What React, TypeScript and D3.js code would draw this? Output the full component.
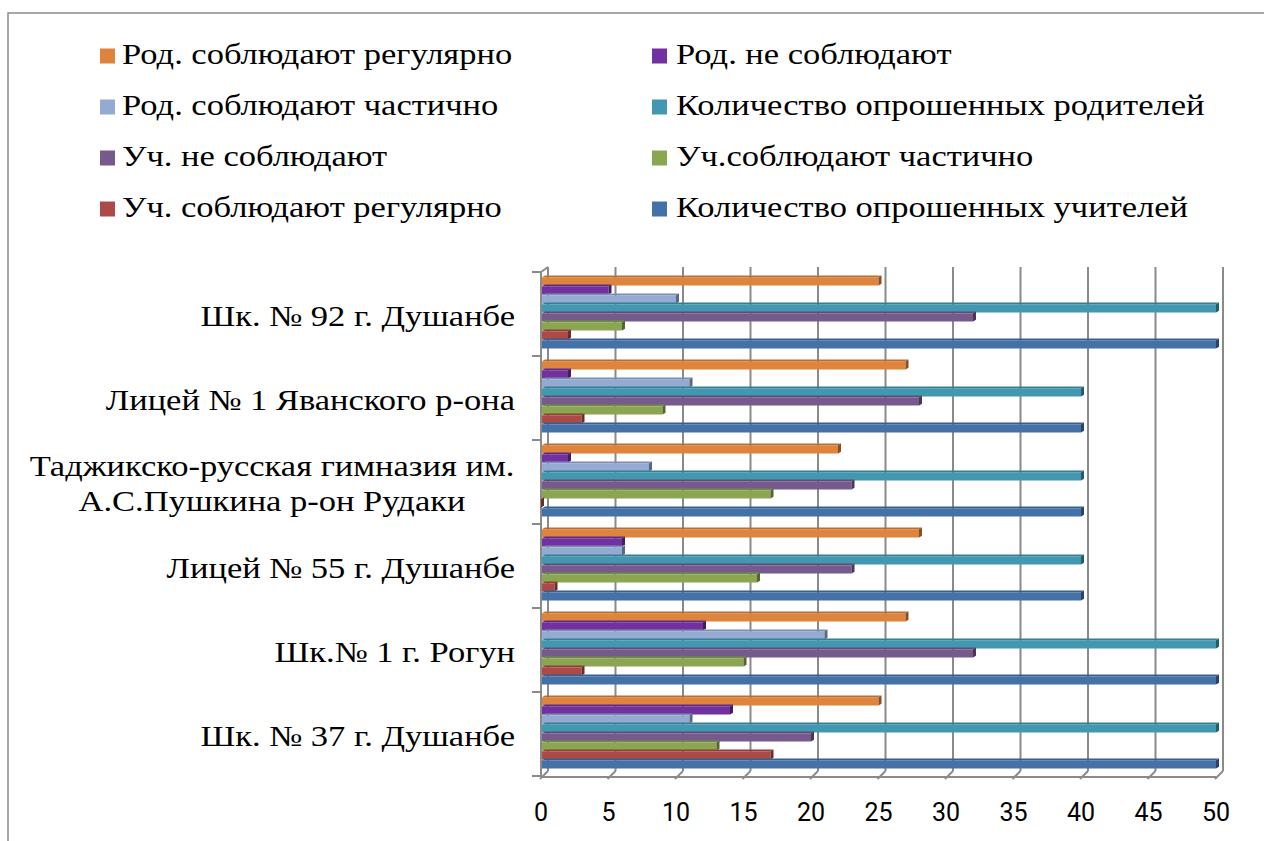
import React from "react";
import * as d3 from "d3";

const categories = [
  "Шк. № 92 г. Душанбе",
  "Лицей № 1 Яванского р-она",
  "Таджикско-русская гимназия им.|А.С.Пушкина р-он Рудаки",
  "Лицей № 55 г. Душанбе",
  "Шк.№ 1 г. Рогун",
  "Шк. № 37 г. Душанбе",
];

const seriesNames = [
  "Род. соблюдают регулярно",
  "Род. не соблюдают",
  "Род. соблюдают частично",
  "Количество опрошенных родителей",
  "Уч. не соблюдают",
  "Уч.соблюдают частично",
  "Уч. соблюдают регулярно",
  "Количество опрошенных учителей",
];

const rodReg = [25, 27, 22, 28, 27, 25];
const rodNe = [5, 2, 2, 6, 12, 14];
const rodChast = [10, 11, 8, 6, 21, 11];
const rodCount = [50, 40, 40, 40, 50, 50];
const uchNe = [32, 28, 23, 23, 32, 20];
const uchChast = [6, 9, 17, 16, 15, 13];
const uchReg = [2, 3, 0, 1, 3, 17];
const uchCount = [50, 40, 40, 40, 50, 50];

const seriesValues = [rodReg, rodNe, rodChast, rodCount, uchNe, uchChast, uchReg, uchCount];
const seriesColors = ["#DE843C", "#7231A0", "#94AAD3", "#4198B0", "#765A8E", "#8BA650", "#AD4A47", "#4472A8"];

const xTicks = [0, 5, 10, 15, 20, 25, 30, 35, 40, 45, 50];

const STRETCH = 1.19;

export default function App() {
  const x = d3.scaleLinear().domain([0, 50]).range([541, 1216]);
  const y = d3.scaleBand().domain(categories).range([272, 776]);
  const inner = d3.scaleBand().domain(seriesNames).range([3.5, 75.5]);
  const DX = 7, DY = 6;
  const floorY = 777;
  const topY = 267;
  const grid = "#8a8a8a";
  const serif = "'Liberation Serif', 'Times New Roman', serif";
  const sans = "'Liberation Sans Narrow', 'Roboto', sans-serif";

  const legendRows = [64, 115, 166, 217];

  return (
    <svg width={1264} height={841} style={{ position: "absolute", left: 0, top: 0, background: "#fff" }}>
      <rect x={8} y={13} width={1300} height={900} fill="#fff" stroke="#8c8c8c" strokeWidth={1.5} />

      {/* legend */}
      {seriesNames.map((name, i) => {
        const col = i % 2;
        const row = Math.floor(i / 2);
        const mx = col === 0 ? 100 : 652;
        const tx = col === 0 ? 122 : 676;
        const by = legendRows[row];
        return (
          <g key={name}>
            <rect x={mx} y={by - 15.5} width={15} height={15} fill={seriesColors[i]} />
            <text transform={`translate(${tx},${by}) scale(${STRETCH},1)`} fontFamily={serif} fontSize={29} fill="#000">{name}</text>
          </g>
        );
      })}

      {/* back wall gridlines */}
      {xTicks.map((t) => (
        <line key={"g" + t} x1={x(t) + DX} x2={x(t) + DX} y1={topY} y2={floorY - DY} stroke={grid} strokeWidth={2} />
      ))}
      {/* left wall */}
      <line x1={541} x2={541} y1={topY + DY - 1} y2={floorY} stroke={grid} strokeWidth={2} />
      <line x1={541} x2={541 + DX} y1={topY + DY - 1} y2={topY} stroke={grid} strokeWidth={2} />
      {categories.map((c) => (
        <line key={"lt" + c} x1={532} x2={541} y1={y(c)!} y2={y(c)!} stroke={grid} strokeWidth={2} />
      ))}
      <line x1={532} x2={541} y1={776} y2={776} stroke={grid} strokeWidth={2} />
      {/* floor */}
      <line x1={541} x2={1216} y1={floorY} y2={floorY} stroke={grid} strokeWidth={2} />
      {xTicks.map((t) => (
        <line key={"ft" + t} x1={x(t) - 1} x2={x(t) + DX} y1={floorY + 2} y2={floorY - DY} stroke={grid} strokeWidth={2} />
      ))}

      {/* bars */}
      {categories.map((c, ci) => (
        <g key={"cat" + ci}>
          {seriesNames.map((s, si) => {
            const v = seriesValues[si][ci];
            const color = d3.color(seriesColors[si])!;
            const top = y(c)! + inner(s)!;
            const x0 = x(0) + 1;
            const x1 = x(v);
            const h = inner.bandwidth();
            const d = 3;
            const tf = 1.8;
            const ft = top + tf;
            return (
              <g key={s}>
                <rect x={x0} y={ft} width={Math.max(0, x1 - x0)} height={h - 0.8} fill={seriesColors[si]} />
                <polygon points={`${x0},${ft} ${x1},${ft} ${x1 + d},${top} ${x0 + d},${top}`} fill={color.darker(0.5).toString()} />
                <polygon points={`${x1},${ft} ${x1 + d},${top} ${x1 + d},${top + h - 0.8} ${x1},${ft + h - 0.8}`} fill={color.darker(1.4).toString()} />
              </g>
            );
          })}
        </g>
      ))}

      {/* category labels */}
      {categories.map((c) => {
        const cy = y(c)! + y.bandwidth() / 2;
        const lines = c.split("|");
        if (lines.length === 1) {
          return (
            <text key={"cl" + c} transform={`translate(515,${cy + 12}) scale(${STRETCH},1)`} textAnchor="end" fontFamily={serif} fontSize={29} fill="#000">{c}</text>
          );
        }
        return (
          <g key={"cl" + c}>
            {lines.map((l, li) => (
              <text key={l} transform={`translate(272,${cy + 11 + (li - 0.5) * 35}) scale(${STRETCH},1)`} textAnchor="middle" fontFamily={serif} fontSize={29} fill="#000">{l}</text>
            ))}
          </g>
        );
      })}

      {/* x tick labels */}
      {xTicks.map((t) => (
        <text key={"xl" + t} x={x(t)} y={821} textAnchor="middle" fontFamily={sans} fontSize={25} fill="#000">{t}</text>
      ))}
    </svg>
  );
}
